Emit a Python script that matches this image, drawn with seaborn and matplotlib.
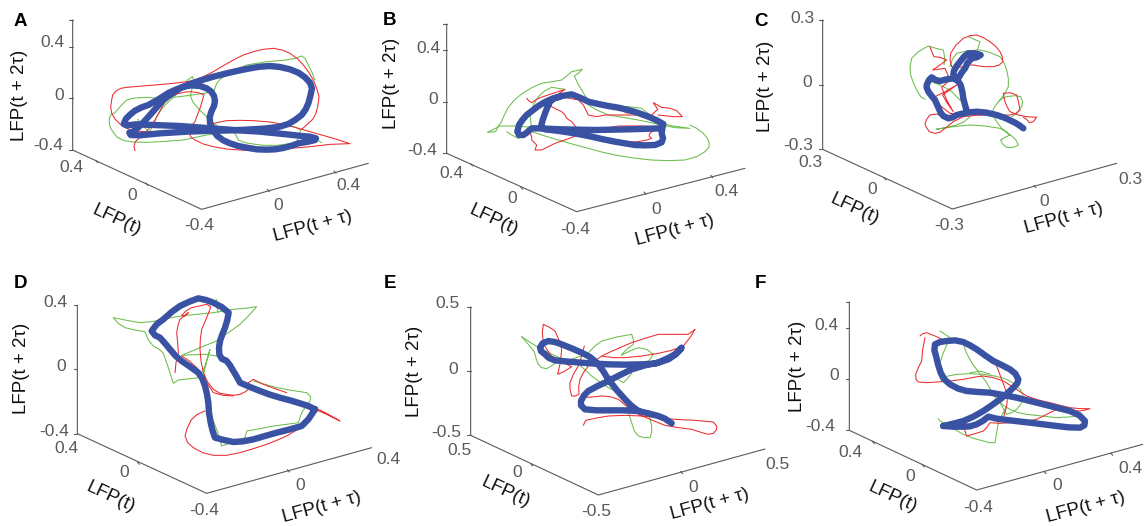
import matplotlib
matplotlib.use("Agg")
import matplotlib.pyplot as plt
import seaborn as sns
import pandas as pd

a_blue = [[(948,415),(930,410),(905,408),(850,402),(780,395),(700,390),(620,384),(540,378),(460,375),(410,373),(380,376),(371,372),(378,356),(390,344),(405,332),(425,322),(445,315),(465,304),(485,292),(505,279),(525,270),(550,260),(575,256),(600,258),(620,265),(634,275),(642,288),(645,303),(642,318),(634,335),(629,352),(630,368),(637,388),(652,408),(670,421),(690,430),(715,438),(740,443),(770,448),(800,449),(825,448),(850,444),(875,437),(895,430),(925,425),(945,420)],
          [(400,395),(388,398),(392,405),(420,406),(480,400),(560,395),(640,392),(720,390),(790,386),(835,381),(865,372),(885,360),(905,345),(917,328),(925,310),(931,288),(936,265),(930,248),(915,232),(895,218),(870,208),(840,201),(810,198),(780,200),(750,205),(715,212),(680,220),(640,230),(600,242),(570,252),(540,265),(515,281),(490,300),(470,322),(450,345),(432,365),(415,382),(400,395)]]
a_red = [[(405,452),(402,438),(406,425),(420,412),(435,400),(450,382),(465,360),(480,332),(495,305),(510,292),(530,282),(550,277),(570,275),(595,278),(612,285),(606,305),(600,325),(592,345),(585,365),(572,380),(566,395),(572,410),(585,420),(610,432),(640,440),(680,447),(720,450),(760,452),(800,452),(860,446),(930,440),(990,433),(1050,431),(1000,415),(930,395),(860,375),(810,366),(760,362),(720,361),(680,362),(650,368),(620,378),(580,386),(540,390),(500,394),(460,395),(430,395),(400,392),(378,384),(360,372),(345,357),(335,340),(332,320),(335,300),(338,285),(348,273),(362,265),(380,262),(440,257),(500,252),(545,247),(580,242),(610,230),(640,215),(670,197),(700,180),(730,165),(760,155),(790,148),(820,145),(847,150),(870,160),(892,176),(910,195),(927,218),(940,240),(950,265),(957,290),(954,315),(948,340),(938,358),(925,370),(905,388)]]
a_green = [[(965,428),(950,420),(930,425),(880,430),(830,436),(790,436),(760,432),(735,428),(715,420),(708,405),(700,396),(680,392),(660,385),(642,370),(625,355),(607,338),(590,320),(578,305),(572,290),(573,275),(578,262),(582,245),(578,230),(562,240),(553,258),(535,278),(520,292),(495,315),(480,335),(470,350),(460,375),(448,397),(430,378),(413,358)],
           [(945,240),(935,215),(925,195),(915,175),(905,168),(885,175),(860,180),(800,185),(770,190),(740,195),(705,210),(680,225),(660,238),(650,250),(645,265),(640,275),(612,280),(575,285),(540,290),(505,293),(470,295),(445,292),(420,293),(398,295),(380,300),(362,318),(345,338),(332,345),(328,355),(328,372),(332,385),(342,400),(352,412),(372,422),(400,426),(440,427),(480,425),(550,420),(620,405),(660,400),(700,398),(750,392),(790,385),(830,380),(870,378),(888,382),(902,390),(897,408),(890,425)]]

b_blue = [[(860,385),(760,388),(660,390),(560,388),(490,385),(470,385),(455,398),(445,405),(432,405),(427,395),(432,375),(442,360),(455,345),(472,332),(490,318),(510,306),(530,297),(560,288),(590,283),(615,293),(640,305),(670,312),(700,318),(730,323),(760,330),(790,339),(820,350),(845,361),(865,372),(862,385),(860,400),(864,415),(860,427),(840,435),(810,436),(780,435),(750,430),(720,425),(685,418),(650,410),(615,403),(580,397),(545,392),(510,388),(498,380),(503,360),(510,340),(517,322),(525,305),(538,295),(555,290)]]
b_red = [[(455,295),(462,303),(470,308),(490,295),(525,283),(570,268),(550,282),(530,295),(527,310),(530,320),(545,328),(560,335),(570,345),(575,355),(590,365),(600,378),(612,390),(625,400),(660,415),(690,422),(720,425),(755,427),(790,425),(815,420),(830,415),(822,408),(825,400),(835,392),(840,380),(800,378),(730,378),(700,383),(670,390),(640,397),(610,405),(575,418),(540,430),(520,440),(500,450),(480,450),(485,435),(470,420),(470,410),(465,398),(460,385)],
         [(560,290),(585,295),(610,300),(625,315),(640,345),(665,350),(690,345),(725,345),(760,345),(795,345),(830,345),(848,328),(835,308),(860,322),(885,325),(905,332),(922,350),(895,350),(850,345)],
         [(750,338),(775,340)]]
b_green = [[(338,397),(362,395),(370,378),(378,368),(388,345),(400,322),(418,300),(440,282),(470,263),(500,250),(530,245),(560,240),(575,228),(590,215),(622,208),(610,220),(598,228),(608,250),(620,270),(632,290),(645,305),(680,312),(720,318),(760,320),(800,325),(825,345),(850,368),(895,378),(945,385),(900,383),(850,373),(800,362),(750,353),(700,345),(665,330),(640,315)],
           [(395,395),(410,405),(430,415),(450,405),(470,395),(510,408),(550,420),(595,433),(640,445),(680,456),(720,465),(775,474),(830,480),(880,482),(930,480),(965,470),(990,455),(1001,443),(1003,430),(997,415),(985,400),(965,385),(945,375)],
           [(470,385),(465,345),(475,315),(490,290),(510,272),(530,262),(550,265),(570,268)],
           [(338,397),(375,378),(420,378),(470,382)]]

c_blue = [[(820,385),(808,376),(795,368),(768,355),(740,345),(710,338),(680,335),(650,338),(620,345),(608,352),(595,355),(580,348),(572,338),(563,318),(555,300),(545,288),(535,275),(530,262),(530,255),(537,240),(545,232),(557,240),(570,243),(590,238),(610,235),(624,243),(632,255),(637,275),(640,295),(645,315),(650,332)],
          [(615,235),(610,222),(612,212),(620,198),(630,185),(642,170),(655,160),(675,160),(692,165),(680,172),(665,175),(652,190),(645,205),(635,218),(625,235)]]
c_red = [[(540,140),(545,155),(552,170),(570,172),(590,180),(570,195),(548,210),(585,205),(600,240),(575,262),(590,300),(610,335),(592,310),(578,285),(620,255),(580,278),(545,295),(572,318),(600,340),(640,345),(600,355),(580,350),(560,342),(540,345),(530,358),(525,370),(528,380),(538,395),(555,400),(570,397),(585,385),(610,365),(640,350),(680,346),(720,345),(780,345),(798,340),(810,330),(806,308),(800,285),(780,278),(760,280),(762,293),(765,305),(772,322),(780,335),(805,345),(830,350),(860,352),(850,365),(838,368),(830,358),(820,352)],
         [(605,200),(600,180),(602,160),(618,135),(640,115),(660,107),(680,105),(700,113),(720,125),(738,140),(750,155),(757,170),(758,185),(748,195),(730,200),(700,200),(670,195),(655,195),(640,200),(622,203),(605,200)]]
c_green = [[(525,298),(512,290),(500,270),(490,248),(482,225),(480,200),(485,175),(505,155),(535,138),(558,145),(580,150),(584,172),(582,195)],
           [(530,240),(565,253),(600,270),(625,295),(650,320),(658,335),(660,350),(643,365),(620,375),(590,382),(558,388),(610,380),(660,375),(705,378),(750,385),(770,395),(780,405),(765,412),(752,420),(758,432),(770,442),(790,442),(805,435),(798,420),(785,408),(770,398),(755,385),(740,365),(725,340),(733,322),(745,305),(762,285),(775,260),(775,235),(770,210),(762,188),(750,170),(720,158),(690,150),(655,152),(620,160),(607,178),(600,200)],
           [(745,305),(757,295),(770,290),(795,287),(812,290),(818,305),(815,320),(802,338),(785,350)],
           [(655,110),(672,118),(690,125),(686,138),(682,150)]]

d_blue = [[(945,430),(925,420),(900,412),(870,403),(840,395),(810,386),(780,375),(750,363),(720,350),(712,335),(700,315),(690,298),(680,285),(665,278),(658,265),(657,245),(660,225),(667,205),(675,185),(682,162),(686,140),(665,123),(640,110),(618,102),(595,97),(568,107),(540,120),(515,138),(490,160),(470,175),(455,195),(465,208),(480,215),(495,232),(510,250),(527,270),(545,285),(570,302),(595,320),(607,338),(615,360),(621,385),(625,410),(627,440),(632,470),(638,495),(645,515),(672,522),(700,528),(730,526),(760,520),(795,510),(830,500),(870,490),(905,480),(925,460),(945,430)]]
d_red = [[(525,320),(528,290),(535,260),(533,230),(530,200),(534,178),(540,160),(552,150),(565,140),(555,150),(545,148),(558,135),(575,125),(598,120),(620,115),(632,122),(630,130),(618,160),(605,190),(601,220),(600,250),(603,285),(610,320),(623,348),(640,370),(660,382),(680,385),(700,388),(720,385),(735,378),(745,370)],
         [(545,270),(568,285),(590,305),(615,342),(640,380),(670,388),(700,390)],
         [(615,435),(592,445),(575,460),(562,485),(555,510),(563,530),(580,545),(608,560),(640,568),(680,568),(720,560),(760,548),(800,535),(830,523),(860,510),(890,492),(920,470),(932,450),(945,430),(980,445),(1020,465),(990,448),(960,432),(930,422),(900,412)],
         [(745,350),(760,340),(790,355),(825,368),(860,380)]]
d_green = [[(340,155),(355,172),(375,185),(405,192),(435,197),(445,222),(460,240),(478,250),(490,262),(505,305),(520,352),(535,342),(550,340),(572,338),(595,335),(606,318),(615,300),(624,272),(630,250),(620,285),(612,320),(616,352),(620,385)],
           [(340,155),(380,163),(420,170),(455,167),(490,160),(525,153),(560,148),(600,144),(640,140),(670,135),(700,130),(735,127),(770,122),(745,150),(720,175),(685,200),(650,225),(600,245),(545,268),(585,266),(620,265),(650,270),(680,275),(697,296),(710,320)],
           [(650,100),(648,115),(655,140)],
           [(760,345),(795,355),(830,365),(875,373),(920,380),(932,392),(930,405),(915,425),(905,440),(900,455),(895,470),(860,475),(820,480),(780,488),(740,495),(735,515),(700,528),(665,540),(660,520),(650,490),(640,465),(630,440)]]

e_blue = [[(890,472),(870,458),(850,450),(820,442),(790,435),(745,433),(700,433),(665,433),(630,430),(618,418),(618,405),(627,388),(640,375),(668,360),(700,345),(735,327),(770,310),(810,298),(850,290),(880,276),(900,265),(912,255),(920,245),(902,265),(880,280),(840,293),(800,295),(750,296),(700,295),(660,293),(620,290),(580,287),(540,283),(522,276),(510,265),(498,255),(495,245),(503,232),(520,225),(540,228),(560,235),(590,247),(620,260),(645,273),(665,290),(683,313),(700,340),(725,372),(750,400),(770,420),(790,435)]]
e_red = [[(505,175),(522,183),(540,195),(552,222),(560,250),(556,290),(548,325),(568,316),(590,302),(560,288),(530,270),(515,250),(505,230),(502,200),(505,175)],
         [(960,190),(940,205),(895,205),(850,205),(810,217),(770,230),(730,247),(690,265),(662,282),(640,300),(625,320),(615,340),(611,362),(612,385),(600,390),(590,390),(585,370),(585,350),(595,325),(610,300),(620,270),(628,240)],
         [(625,478),(632,463),(665,456),(700,450),(750,448),(800,450),(850,455),(900,460),(960,463),(1015,468),(1025,480),(1025,490),(1015,502),(1000,505),(975,498),(950,490),(910,485),(870,478),(830,462),(790,445),(760,425),(730,400),(705,392),(680,390),(650,393),(620,395)],
         [(960,190),(945,215),(925,240),(890,253),(850,262),(800,270),(750,275),(715,275),(680,270)]]
e_green = [[(440,212),(460,235),(478,258),(484,280),(490,295),(500,305),(515,308),(532,298),(550,285),(575,283),(600,285),(625,307),(650,330),(680,352),(712,372),(707,350),(705,330),(725,338),(745,350),(758,337),(770,322)],
           [(440,212),(470,232),(500,250),(538,268),(575,285),(610,273),(640,260),(660,240),(680,225),(725,213),(770,205),(775,220),(775,235),(755,250),(738,268),(765,255),(790,245),(815,250),(835,265),(825,280),(810,292)],
           [(755,420),(762,445),(770,470),(778,495),(790,510),(808,515),(825,515),(830,498),(830,480),(825,458),(815,440),(790,435)]]

f_blue = [[(580,480),(610,473),(640,465),(670,452),(700,435),(725,418),(750,400),(772,382),(790,365),(802,352),(805,340),(796,323),(780,310),(755,297),(730,285),(705,268),(680,250),(660,238),(640,228),(615,223),(590,225),(570,228),(555,235),(553,252),(558,270),(564,295),(572,320),(583,340),(600,355),(625,368),(650,375),(685,378),(720,380),(760,387),(800,395),(840,405),(880,415),(920,425),(960,435),(988,448),(1005,465),(1003,478),(990,485),(955,484),(920,480),(880,475),(840,470),(805,466),(770,462),(740,458),(715,452),(698,465),(680,475),(660,481),(640,482),(610,482),(580,480)]]
f_red = [[(510,210),(518,203),(530,200),(555,210),(580,222),(610,225),(640,225),(670,240),(700,255),(722,277),(740,300),(755,340),(770,380),(772,400),(770,420),(765,438),(760,455)],
         [(525,215),(518,250),(515,285),(505,305),(497,325),(498,340),(505,348),(530,350),(560,348),(600,345),(640,340),(670,334),(700,330),(730,335),(760,345),(795,367),(830,390),(865,402),(900,410),(930,418),(960,425),(990,428),(1020,428),(1005,432),(990,435),(955,432),(920,430),(890,445),(860,460),(820,467),(780,470),(750,472),(720,470),(710,485),(700,495),(675,503),(650,510),(645,495),(640,480)]]
f_green = [[(570,195),(585,205),(600,215),(590,238),(580,260),(572,285),(565,310),(568,330),(575,345)],
           [(640,235),(650,262),(665,290),(687,320),(710,350),(725,377),(740,400),(760,418),(780,430),(805,440),(830,445),(875,450),(920,455),(955,453),(985,450),(995,453),(1000,460)],
           [(570,335),(595,330),(620,325),(660,323),(700,325),(735,330),(770,340),(792,353),(810,370),(818,385),(820,400),(812,415),(800,430),(785,440),(770,445),(760,428),(750,410)],
           [(565,458),(570,465),(580,470),(610,488),(640,505),(670,517),(700,525),(718,530),(735,530),(740,500),(745,470),(757,445),(770,420)],
           [(960,490),(930,480),(900,470),(840,470)],
           [(660,320),(675,318),(690,315),(705,320),(720,325)]]

panel_names = ["A", "B", "C", "D", "E", "F"]
blue_traces = [a_blue, b_blue, c_blue, d_blue, e_blue, f_blue]
red_traces = [a_red, b_red, c_red, d_red, e_red, f_red]
green_traces = [a_green, b_green, c_green, d_green, e_green, f_green]

# tick labels: top of z axis downwards, then floor axes
z_labels = [["0.4", "0", "-0.4"], ["0.4", "0", "-0.4"], ["0.3", "0", "-0.3"],
            ["0.4", "0", "-0.4"], ["0.5", "0", "-0.5"], ["0.4", "0", "-0.4"]]
left_labels = [["0.4", "0", "-0.4"], ["0.4", "0", "-0.4"], ["0.3", "0", "-0.3"],
               ["0.4", "0", "-0.4"], ["0.5", "0", "-0.5"], ["0.4", "0", "-0.4"]]
right_labels = [["0", "0.4"], ["0", "0.4"], ["0", "0.3"],
                ["0", "0.4"], ["0", "0.5"], ["0", "0.4"]]

# layout, in the same 3x pixel units as the traces
offsets = [(0, 0), (375, 0), (750, 0), (0, 266), (375, 266), (750, 266)]
frames = [[(218,60),(218,450),(605,628),(1105,490)],
          [(215,72),(215,460),(605,635),(1110,505)],
          [(218,60),(218,448),(607,627),(1100,490)],
          [(232,118),(232,503),(620,682),(1115,545)],
          [(287,123),(287,508),(670,687),(1170,549)],
          [(298,108),(298,493),(680,672),(1178,535)]]
z_ticks = [[60,140,295,450], [72,150,305,460], [60,255,448],
           [118,310,503], [123,315,508], [108,185,340,493]]
floor_ticks = [[(290,485),(440,553),(805,572),(1005,517)],
               [(290,495),(440,565),(810,580),(1010,530)],
               [(405,537),(855,560)],
               [(415,592),(865,615)],
               [(470,597),(920,620)],
               [(370,530),(520,600),(885,620),(1085,565)]]
z_label_pos = [[(158,128),(178,287),(145,437)], [(160,145),(175,298),(142,452)], [(157,55),(172,248),(145,437)],
               [(165,110),(183,302),(162,495)], [(218,112),(235,310),(215,500)], [(228,180),(252,328),(212,482)]]
left_label_pos = [[(215,503),(397,587),(598,677)], [(228,522),(412,596),(600,688)], [(182,488),(368,570),(598,677)],
                  [(200,548),(372,620),(612,733)], [(253,553),(428,620),(665,738)], [(302,560),(480,632),(685,725)]]
right_label_pos = [[(835,616),(1045,558)], [(845,630),(1055,573)], [(882,605),(1140,537)],
                   [(900,657),(1164,582)], [(955,665),(1209,595)], [(922,660),(1140,607)]]
name_pos = [(60,65), (45,62), (32,63), (62,52), (45,52), (30,52)]
zlabel_pos = [(60,285), (50,250), (45,260), (65,307), (118,315), (143,300)]
tlabel_pos = [(350,660), (357,662), (313,628), (332,695), (392,678), (428,693)]
taulabel_pos = [(938,680), (898,690), (942,655), (965,725), (1005,715), (1008,725)]

GRAY = "#5a5a5a"
FS_TICK = 12.5
FS_LABEL = 13.5


def draw_lines(ax, traces, color, lw):
    for trace in traces:
        df = pd.DataFrame(trace, columns=["x", "y"])
        sns.lineplot(data=df, x="x", y="y", sort=False, estimator=None, color=color,
                     linewidth=lw, ax=ax, solid_joinstyle="round", solid_capstyle="round")


sns.set_theme(style="white")
plt.rcParams["font.family"] = ["Liberation Sans", "DejaVu Sans"]

W, H = 1145, 526
fig = plt.figure(figsize=(W / 100, H / 100), dpi=100)

for i, name in enumerate(panel_names):
    ox, oy = offsets[i]
    ax = fig.add_axes([ox / W, 1 - (oy + 260) / H, 395 / W, 260 / H])
    ax.patch.set_alpha(0)

    # box of the 3d view
    frame = frames[i]
    draw_lines(ax, [frame], GRAY, 0.8)
    x0 = frame[0][0]
    for ty in z_ticks[i]:
        draw_lines(ax, [[(x0 - 10, ty), (x0, ty)]], GRAY, 0.8)
    for tx, ty in floor_ticks[i]:
        draw_lines(ax, [[(tx - 3, ty - 4), (tx + 3, ty + 3)]], GRAY, 0.8)

    draw_lines(ax, green_traces[i], "#6cbd4c", 0.75)
    draw_lines(ax, red_traces[i], "#ec2a2e", 0.75)
    draw_lines(ax, blue_traces[i], "#3a52a3", 4.6)

    ax.set_xlim(0, 395 * 3)
    ax.set_ylim(260 * 3, 0)
    ax.axis("off")

    for label, (x, y) in zip(z_labels[i], z_label_pos[i]):
        ax.text(x, y, label, color=GRAY, fontsize=FS_TICK, ha="center", va="center")
    for label, (x, y) in zip(left_labels[i], left_label_pos[i]):
        ax.text(x, y, label, color=GRAY, fontsize=FS_TICK, ha="center", va="center")
    for label, (x, y) in zip(right_labels[i], right_label_pos[i]):
        ax.text(x, y, label, color=GRAY, fontsize=FS_TICK, ha="center", va="center")

    ax.text(*zlabel_pos[i], "LFP(t + 2τ)", color="#111111", fontsize=FS_LABEL, rotation=90, ha="center", va="center")
    ax.text(*tlabel_pos[i], "LFP(t)", color="#111111", fontsize=FS_LABEL, rotation=-25, ha="center", va="center")
    ax.text(*taulabel_pos[i], "LFP(t + τ)", color="#111111", fontsize=FS_LABEL, rotation=15, ha="center", va="center")
    ax.text(*name_pos[i], name, color="black", fontsize=13.5, fontweight="bold", ha="center", va="center")

fig.savefig("out.png", dpi=100)
plt.close(fig)
